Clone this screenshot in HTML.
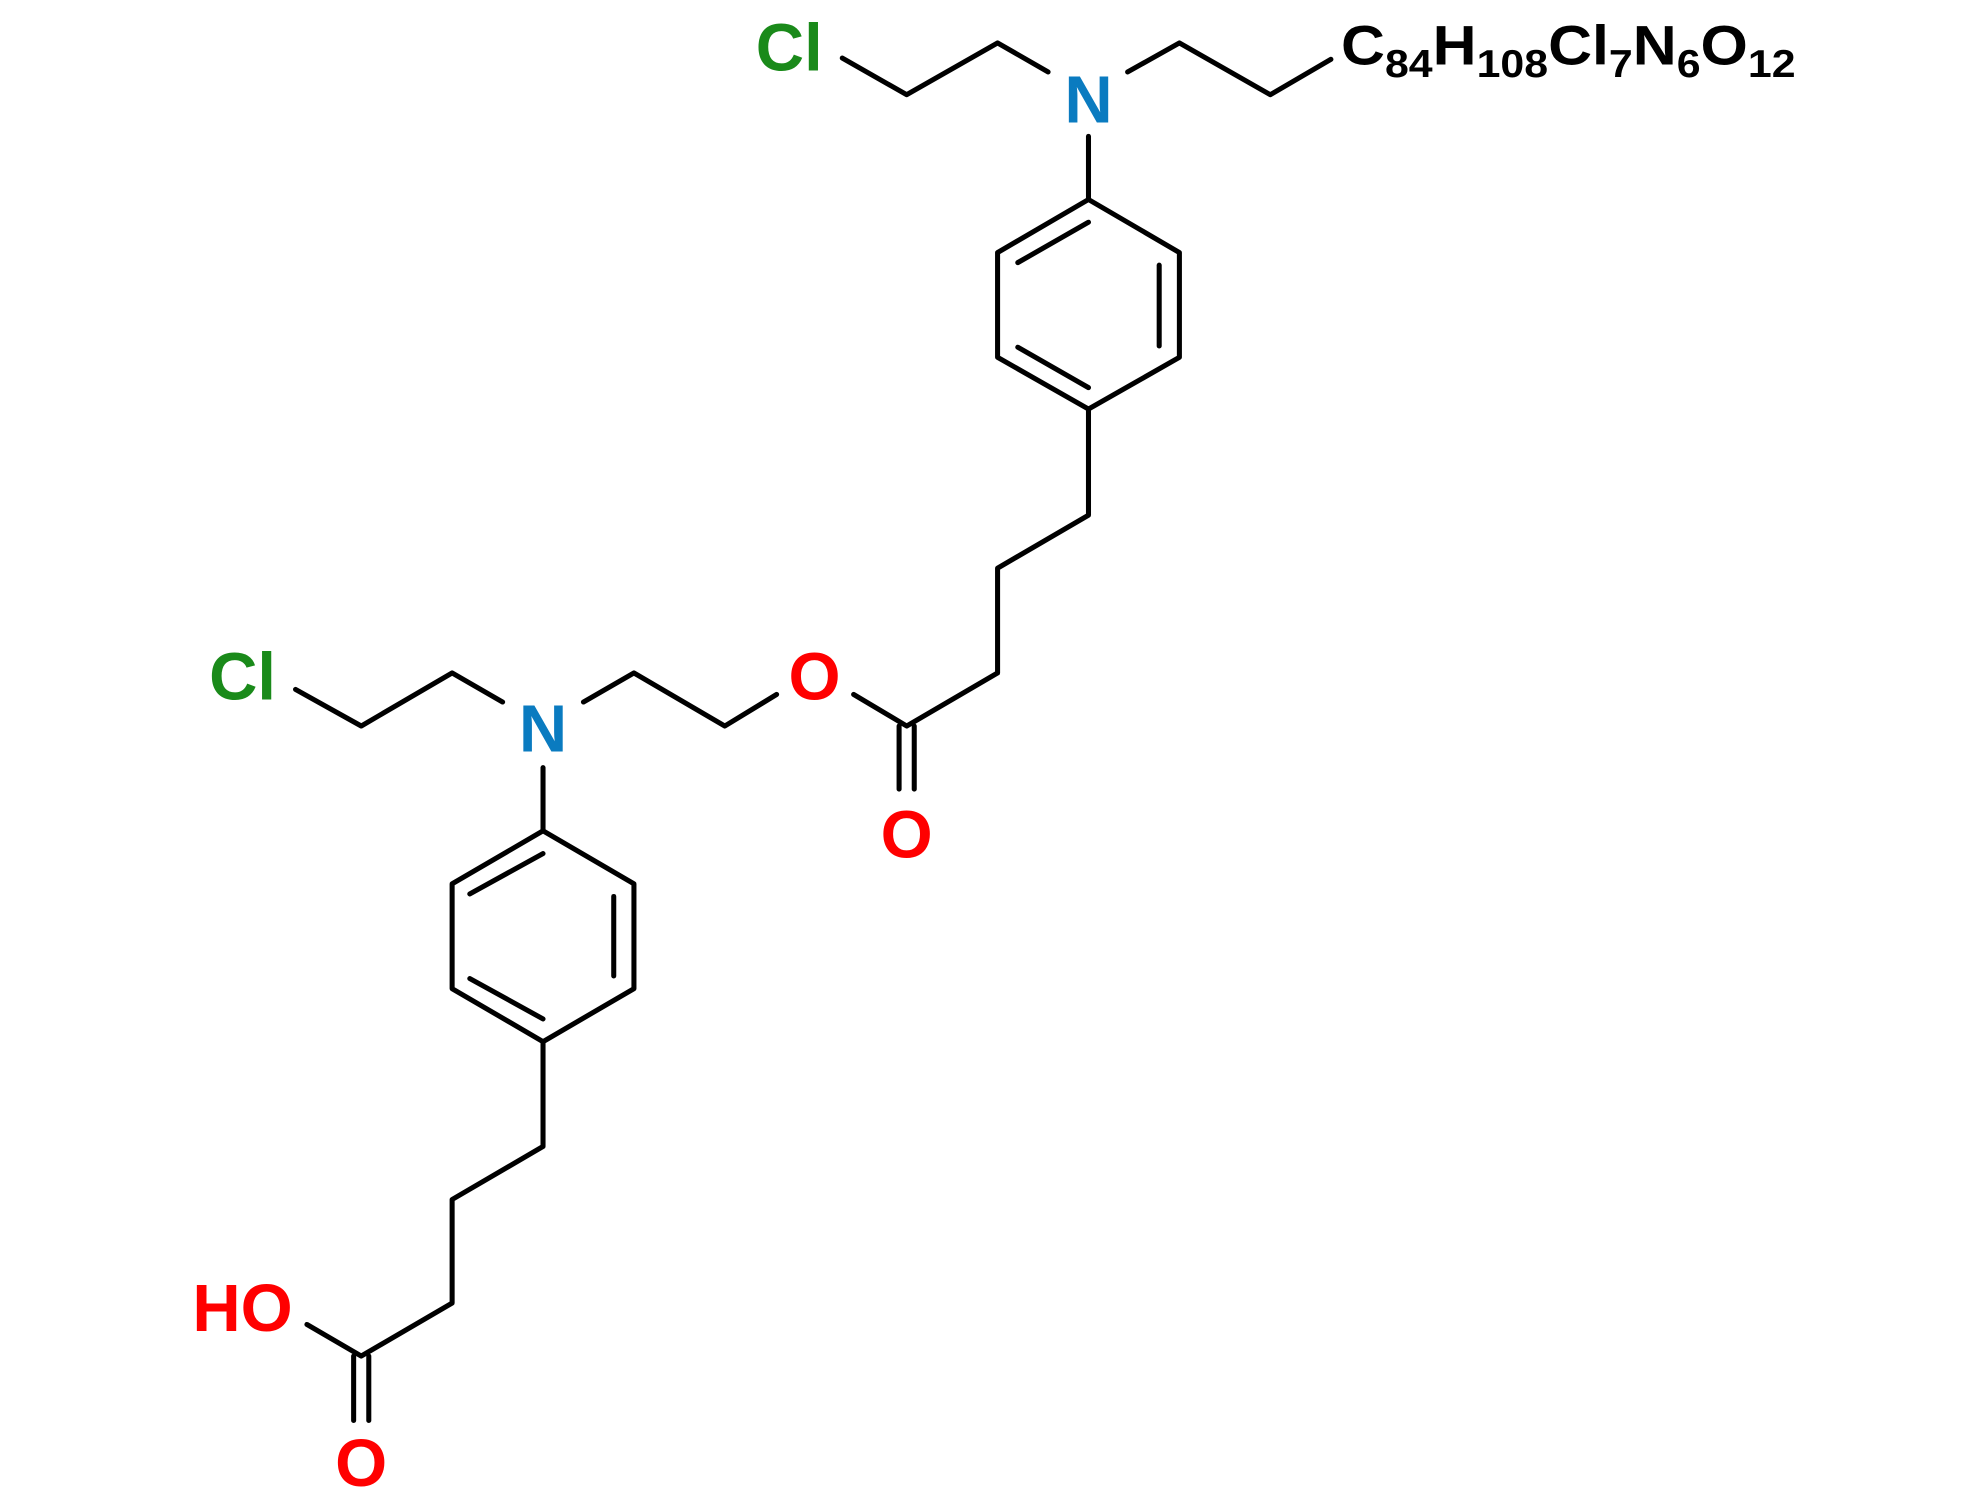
<!DOCTYPE html>
<html><head><meta charset="utf-8"><style>html,body{margin:0;padding:0;background:#fff}svg{display:block}</style></head>
<body>
<svg width="1980" height="1500" viewBox="0 0 1568 1188" xmlns="http://www.w3.org/2000/svg">
<g stroke="#000" stroke-width="4" fill="none" stroke-linecap="round" stroke-linejoin="round">
<polyline points="667,46 718,75 790,34 830,57"/>
<polyline points="893,57 934,34 1006,75 1054,47"/>
<line x1="862" y1="108" x2="862" y2="158"/>
<polygon points="862,158 934,200 934,283 862,324 790,283 790,200"/>
<line x1="806" y1="208" x2="862" y2="176"/>
<line x1="918" y1="210" x2="918" y2="274"/>
<line x1="806" y1="275" x2="862" y2="307"/>
<polyline points="862,324 862,408 790,450 790,533 718,575 676,550"/>
<line x1="712" y1="575" x2="712" y2="625"/>
<line x1="724" y1="575" x2="724" y2="625"/>
<polyline points="615,550 574,575 502,533 462,556"/>
<polyline points="398,556 358,533 286,575 234,546"/>
<line x1="430" y1="608" x2="430" y2="658"/>
<polygon points="430,658 502,700 502,783 430,825 358,783 358,700"/>
<line x1="372" y1="708" x2="430" y2="676"/>
<line x1="486" y1="710" x2="486" y2="773"/>
<line x1="372" y1="775" x2="430" y2="807"/>
<polyline points="430,825 430,908 358,950 358,1032 286,1074 243,1049"/>
<line x1="280" y1="1074" x2="280" y2="1125"/>
<line x1="292" y1="1074" x2="292" y2="1125"/>
</g>
<g font-family="Liberation Sans, sans-serif" font-weight="bold" font-size="53" text-anchor="middle">
<text x="625" y="56" fill="#1a8a1a">Cl</text>
<text x="862" y="97" fill="#0a7bc0">N</text>
<text x="645" y="554" fill="#f00">O</text>
<text x="718" y="679" fill="#f00">O</text>
<text x="430" y="595" fill="#0a7bc0">N</text>
<text x="192" y="554" fill="#1a8a1a">Cl</text>
<text x="192" y="1054" fill="#f00">HO</text>
<text x="286" y="1177" fill="#f00">O</text>
</g>
<text x="1062" y="51" font-family="Liberation Sans, sans-serif" font-weight="bold" font-size="44" fill="#000" textLength="360" lengthAdjust="spacingAndGlyphs">C<tspan font-size="31" dy="10">84</tspan><tspan dy="-10">H</tspan><tspan font-size="31" dy="10">108</tspan><tspan dy="-10">Cl</tspan><tspan font-size="31" dy="10">7</tspan><tspan dy="-10">N</tspan><tspan font-size="31" dy="10">6</tspan><tspan dy="-10">O</tspan><tspan font-size="31" dy="10">12</tspan></text>
</svg>
</body></html>
